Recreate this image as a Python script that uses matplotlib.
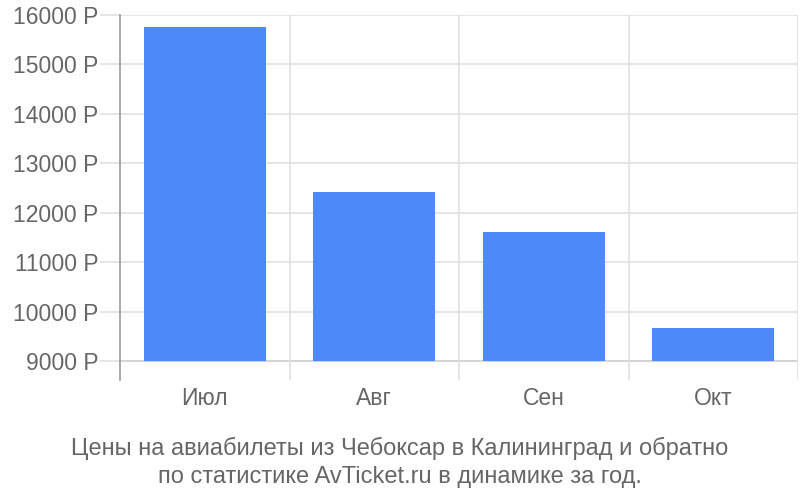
import numpy as np
import matplotlib.pyplot as plt

plt.rcParams['font.family'] = ['Liberation Sans', 'DejaVu Sans']

months = ["Июл", "Авг", "Сен", "Окт"]
prices = [15750, 12420, 11610, 9665]
y_ticks = [9000, 10000, 11000, 12000, 13000, 14000, 15000, 16000]
y_labels = [f"{v} Р" for v in y_ticks]
caption = ("Цены на авиабилеты из Чебоксар в Калининград и обратно\n"
           "по статистике AvTicket.ru в динамике за год.")

base = 9000
fig = plt.figure(figsize=(8, 5), dpi=100)
ax = fig.add_axes([0.15, 0.24, 0.8475, 0.73])

x = np.arange(len(months))
ax.bar(x, np.array(prices) - base, bottom=base, width=0.72, color="#4d89f9", zorder=3)

ax.set_xlim(-0.5, len(months) - 0.5)
ax.set_ylim(8615, 16000)

# horizontal grid
for v in y_ticks:
    ax.axhline(v, color="#cccccc" if v == base else "#e0e0e0", lw=1.2, zorder=1)
# vertical grid at category borders
for b in np.arange(0.5, len(months) - 0.5, 1):
    ax.axvline(b, color="#e0e0e0", lw=1.2, zorder=1)
ax.axvline(len(months) - 0.5, color="#e0e0e0", lw=1.2, zorder=1)

for s in ["top", "right", "bottom"]:
    ax.spines[s].set_visible(False)
ax.spines["left"].set_color("#999999")
ax.spines["left"].set_linewidth(1.2)

ax.set_yticks(y_ticks)
ax.set_yticklabels(y_labels, fontsize=16.5, color="#666666")
ax.tick_params(axis="y", length=14.4, color="#e0e0e0", width=1.2, pad=1)
ax.set_xticks(x)
ax.set_xticklabels(months, fontsize=16.5, color="#666666")
ax.tick_params(axis="x", length=0, pad=5)

fig.text(0.5, 0.075, caption, ha="center", va="center", fontsize=17,
         color="#666666", linespacing=1.32)

fig.savefig("out.png", dpi=100)
